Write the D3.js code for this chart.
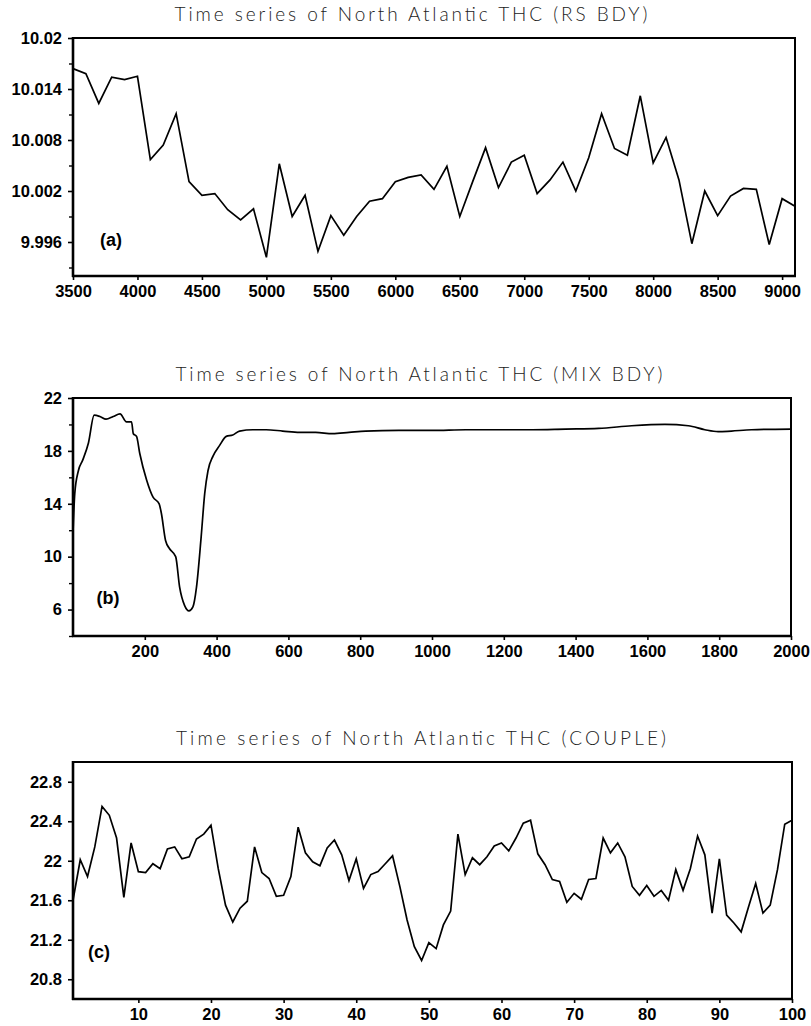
<!DOCTYPE html>
<html>
<head>
<meta charset="utf-8">
<script src="https://cdn.jsdelivr.net/npm/d3@7"></script>
<style>
  html, body { margin: 0; padding: 0; background: #fff; }
  svg { display: block; }
</style>
</head>
<body>
<svg id="chart" width="811" height="1026"></svg>
<script>
// ---------------- DATA ----------------
// Panel (a): RS BDY, every 100 years from 3500 to 9100
const rsYears = d3.range(3500, 9101, 100);
const rsValues = [
  10.0164, 10.0158, 10.0123, 10.0154, 10.0151, 10.0155, 10.0057, 10.0074, 10.0111, 10.0031,
  10.0015, 10.0017, 9.9998, 9.9986, 9.9999, 9.9942, 10.0052, 9.9990, 10.0015, 9.9949,
  9.9991, 9.9968, 9.9990, 10.0008, 10.0011, 10.0031, 10.0036, 10.0039, 10.0022, 10.0049,
  9.9990, 10.0031, 10.0071, 10.0024, 10.0054, 10.0062, 10.0017, 10.0033, 10.0054, 10.0020,
  10.0059, 10.0111, 10.0070, 10.0062, 10.0132, 10.0053, 10.0083, 10.0033, 9.9958, 10.0020,
  9.9991, 10.0014, 10.0023, 10.0022, 9.9957, 10.0011, 10.0002
];
const rsYTicks = [10.02, 10.014, 10.008, 10.002, 9.996];
const rsYMinor = [10.017, 10.011, 10.005, 9.999, 9.993];
const rsXTicks = [3500, 4000, 4500, 5000, 5500, 6000, 6500, 7000, 7500, 8000, 8500, 9000];

// Panel (b): MIX BDY
const mixYears = [0, 5, 15, 27, 43, 59, 75, 92, 112, 131, 149, 163, 168, 177, 186, 205, 223, 240, 246, 258,
  269, 286, 297, 311, 323, 334, 344, 357, 367, 376, 390, 408, 427, 445, 464, 501, 538, 584, 631, 676,
  723, 769, 815, 908, 1000, 1094, 1187, 1279, 1372, 1464, 1556, 1649, 1714, 1760, 1797, 1834, 1890, 2000];
const mixValues = [11.8, 14.8, 16.5, 17.3, 18.6, 20.7, 20.6, 20.4, 20.6, 20.8, 20.2, 20.2, 19.3, 19.1, 17.8, 15.8, 14.5, 14.0, 13.3, 11.2,
  10.6, 10.0, 7.7, 6.3, 5.9, 6.2, 7.7, 11.5, 14.8, 16.5, 17.6, 18.4, 19.1, 19.2, 19.5, 19.6, 19.6, 19.5, 19.4, 19.4,
  19.3, 19.4, 19.5, 19.55, 19.55, 19.6, 19.6, 19.6, 19.65, 19.7, 19.9, 20.0, 19.9, 19.6, 19.45, 19.5, 19.6, 19.65];
const mixYTicks = [22, 18, 14, 10, 6];
const mixYMinor = [20, 16, 12, 8, 4];
const mixXTicks = [200, 400, 600, 800, 1000, 1200, 1400, 1600, 1800, 2000];

// Panel (c): COUPLE, years 1..100
const cpYears = d3.range(1, 101);
const cpValues = [
  21.60, 22.01, 21.84, 22.14, 22.55, 22.46, 22.23, 21.63, 22.18, 21.89,
  21.88, 21.97, 21.92, 22.12, 22.14, 22.02, 22.04, 22.22, 22.27, 22.36,
  21.92, 21.55, 21.38, 21.52, 21.59, 22.14, 21.88, 21.82, 21.64, 21.65,
  21.84, 22.34, 22.08, 21.99, 21.95, 22.13, 22.21, 22.06, 21.80, 22.02,
  21.72, 21.86, 21.89, 21.97, 22.05, 21.74, 21.40, 21.13, 20.99, 21.17,
  21.11, 21.35, 21.49, 22.27, 21.86, 22.03, 21.96, 22.04, 22.15, 22.18,
  22.10, 22.23, 22.38, 22.41, 22.07, 21.96, 21.81, 21.79, 21.58, 21.67,
  21.61, 21.81, 21.82, 22.23, 22.08, 22.18, 22.04, 21.74, 21.65, 21.75,
  21.64, 21.70, 21.60, 21.91, 21.70, 21.92, 22.25, 22.06, 21.47, 22.02,
  21.45, 21.37, 21.28, 21.53, 21.77, 21.47, 21.55, 21.91, 22.37, 22.41
];
const cpYTicks = [22.8, 22.4, 22, 21.6, 21.2, 20.8];
const cpXTicks = [10, 20, 30, 40, 50, 60, 70, 80, 90, 100];

const titles = [
  "Time series of North Atlantic THC (RS BDY)",
  "Time series of North Atlantic THC (MIX BDY)",
  "Time series of North Atlantic THC (COUPLE)"
];
const panelLabels = ["(a)", "(b)", "(c)"];

// ---------------- LAYOUT ----------------
const svg = d3.select("#chart");
const tickFont = "'Liberation Sans', Arial, sans-serif";

const panels = [
  { years: rsYears, values: rsValues, xDomain: [3500, 9100], yDomain: [9.992, 10.02],
    left: 73, right: 795, top: 38, bottom: 276, yTicks: rsYTicks, yMinor: rsYMinor, xTicks: rsXTicks,
    curve: d3.curveLinear, title: titles[0], titleX: 411, titleW: 473,
    label: panelLabels[0], labelX: 111, labelY: 240 },
  { years: mixYears, values: mixValues, xDomain: [0, 2000], yDomain: [4, 22],
    left: 73, right: 791, top: 398, bottom: 636, yTicks: mixYTicks, yMinor: mixYMinor, xTicks: mixXTicks,
    curve: d3.curveMonotoneX, title: titles[1], titleX: 419, titleW: 487,
    label: panelLabels[1], labelX: 108, labelY: 598 },
  { years: cpYears, values: cpValues, xDomain: [1, 100], yDomain: [20.6, 23.0],
    left: 73, right: 792, top: 762, bottom: 999, yTicks: cpYTicks, yMinor: [], xTicks: cpXTicks,
    curve: d3.curveLinear, title: titles[2], titleX: 421, titleW: 490,
    label: panelLabels[2], labelX: 99, labelY: 952 }
];

panels.forEach(p => {
  const x = d3.scaleLinear().domain(p.xDomain).range([p.left, p.right]);
  const y = d3.scaleLinear().domain(p.yDomain).range([p.bottom, p.top]);
  const g = svg.append("g");

  // title
  g.append("text")
    .attr("x", p.titleX).attr("y", p.top - 17)
    .attr("text-anchor", "middle")
    .attr("textLength", p.titleW).attr("lengthAdjust", "spacing")
    .style("font-family", "Lato, 'Open Sans', sans-serif")
    .style("font-weight", 300)
    .style("font-size", "19px")
    .style("fill", "#222")
    .text(p.title);

  // y axis (left)
  const yAxis = d3.axisLeft(y).tickValues(p.yTicks).tickSize(5).tickPadding(6).tickFormat(d => String(d));
  const ya = g.append("g").attr("transform", `translate(${p.left},0)`).call(yAxis);
  ya.select(".domain").remove();
  ya.selectAll(".tick line").attr("stroke", "#000").attr("stroke-width", 1.6);
  ya.selectAll(".tick text")
    .style("font-family", tickFont).style("font-weight", "bold").style("font-size", "16.5px").style("fill", "#000");
  if (p.yMinor.length) {
    const ym = d3.axisLeft(y).tickValues(p.yMinor).tickSize(4).tickFormat("");
    const ymg = g.append("g").attr("transform", `translate(${p.left},0)`).call(ym);
    ymg.select(".domain").remove();
    ymg.selectAll(".tick line").attr("stroke", "#000").attr("stroke-width", 1.4);
  }

  // x axis (bottom)
  const xAxis = d3.axisBottom(x).tickValues(p.xTicks).tickSize(4).tickPadding(5).tickFormat(d => String(d));
  const xa = g.append("g").attr("transform", `translate(0,${p.bottom})`).call(xAxis);
  xa.select(".domain").remove();
  xa.selectAll(".tick line").attr("stroke", "#000").attr("stroke-width", 1.6);
  xa.selectAll(".tick text")
    .style("font-family", tickFont).style("font-weight", "bold").style("font-size", "16.5px").style("fill", "#000");

  // frame
  g.append("rect")
    .attr("x", p.left).attr("y", p.top)
    .attr("width", p.right - p.left).attr("height", p.bottom - p.top)
    .attr("fill", "none").attr("stroke", "#000").attr("stroke-width", 2);
  g.append("line").attr("x1", p.left).attr("x2", p.left).attr("y1", p.top - 1).attr("y2", p.bottom + 1)
    .attr("stroke", "#000").attr("stroke-width", 2.6);
  g.append("line").attr("x1", p.left - 1).attr("x2", p.right + 1).attr("y1", p.bottom).attr("y2", p.bottom)
    .attr("stroke", "#000").attr("stroke-width", 2.6);

  // series
  const data = p.years.map((yr, i) => [yr, p.values[i]]);
  const line = d3.line().x(d => x(d[0])).y(d => y(d[1])).curve(p.curve);
  g.append("path").datum(data)
    .attr("d", line)
    .attr("fill", "none").attr("stroke", "#000").attr("stroke-width", 1.7)
    .attr("stroke-linejoin", "miter");

  // panel label
  g.append("text")
    .attr("x", p.labelX).attr("y", p.labelY)
    .attr("text-anchor", "middle").attr("dominant-baseline", "central")
    .style("font-family", tickFont).style("font-weight", "bold").style("font-size", "18px")
    .text(p.label);
});
</script>
</body>
</html>
